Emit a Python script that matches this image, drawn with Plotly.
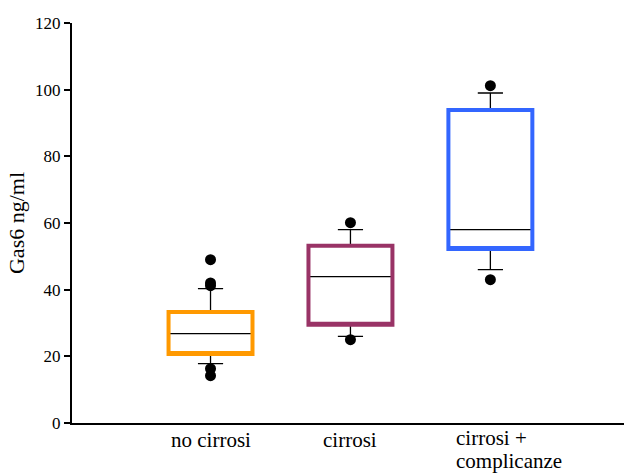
import plotly.graph_objects as go

categories = ["no cirrosi", "cirrosi", "cirrosi +\ncomplicanze"]
q1 = [20.7, 29.5, 52.2]
median = [26.8, 43.9, 58.0]
q3 = [33.3, 53.2, 93.9]
lower_whisker = [17.8, 26.0, 46.0]
upper_whisker = [40.3, 58.0, 99.0]
outlier_x = [0, 0, 0, 0, 0, 1, 1, 2, 2]
outlier_y = [49.0, 42.0, 41.2, 16.3, 14.2, 60.1, 25.0, 101.2, 43.0]
colors = ["#FF9900", "#993366", "#3366FF"]
positions = [0, 1, 2]

serif = "Liberation Serif, Times New Roman, serif"

fig = go.Figure()

# black whiskers + median (bottom layer)
fig.add_trace(go.Box(
    x=positions, q1=q1, median=median, q3=q3,
    lowerfence=lower_whisker, upperfence=upper_whisker,
    width=0.6, whiskerwidth=0.3,
    line=dict(color="black", width=1.3),
    fillcolor="rgba(0,0,0,0)", boxpoints=False,
    hoverinfo="skip", showlegend=False,
))

# colored box outlines on top
for i in range(3):
    fig.add_trace(go.Box(
        x=[positions[i]], q1=[q1[i]], median=[q1[i]], q3=[q3[i]],
        lowerfence=[q1[i]], upperfence=[q3[i]],
        width=0.6, whiskerwidth=0,
        line=dict(color=colors[i], width=4),
        fillcolor="rgba(0,0,0,0)", boxpoints=False,
        hoverinfo="skip", showlegend=False,
    ))

fig.add_trace(go.Scatter(
    x=outlier_x, y=outlier_y, mode="markers",
    marker=dict(color="black", size=11),
    showlegend=False, hoverinfo="skip",
))

label_font = dict(family=serif, size=21, color="black")
annotations = []
for i, c in enumerate(categories):
    lines = c.split("\n")
    if len(lines) == 1:
        annotations.append(dict(x=positions[i], y=0, xref="x", yref="y",
                                text=c, showarrow=False,
                                xanchor="center", yanchor="top", yshift=-3,
                                font=label_font))
    else:
        for j, ln in enumerate(lines):
            annotations.append(dict(x=positions[i], y=0, xref="x", yref="y",
                                    text=ln, showarrow=False,
                                    xanchor="left", yanchor="top",
                                    xshift=-35, yshift=-2 - 23 * j,
                                    borderpad=0,
                                    font=label_font))

fig.update_layout(
    width=624, height=475,
    margin=dict(l=72, r=0, t=23, b=52),
    paper_bgcolor="white", plot_bgcolor="white",
    font=dict(family=serif, size=17, color="black"),
    annotations=annotations,
    boxmode="overlay",
    xaxis=dict(range=[-0.99, 2.955], showticklabels=False, ticks="",
               showgrid=False, zeroline=False, showline=True,
               linecolor="black", linewidth=2),
    yaxis=dict(range=[0, 120], tickvals=[0, 20, 40, 60, 80, 100, 120],
               ticks="outside", ticklen=6, tickwidth=2, tickcolor="black",
               showgrid=False, zeroline=False, showline=True,
               linecolor="black", linewidth=2,
               title=dict(text="Gas6 ng/ml", font=dict(family=serif, size=22), standoff=4),
               tickfont=dict(family=serif, size=17)),
)

fig.write_html("out.html")
